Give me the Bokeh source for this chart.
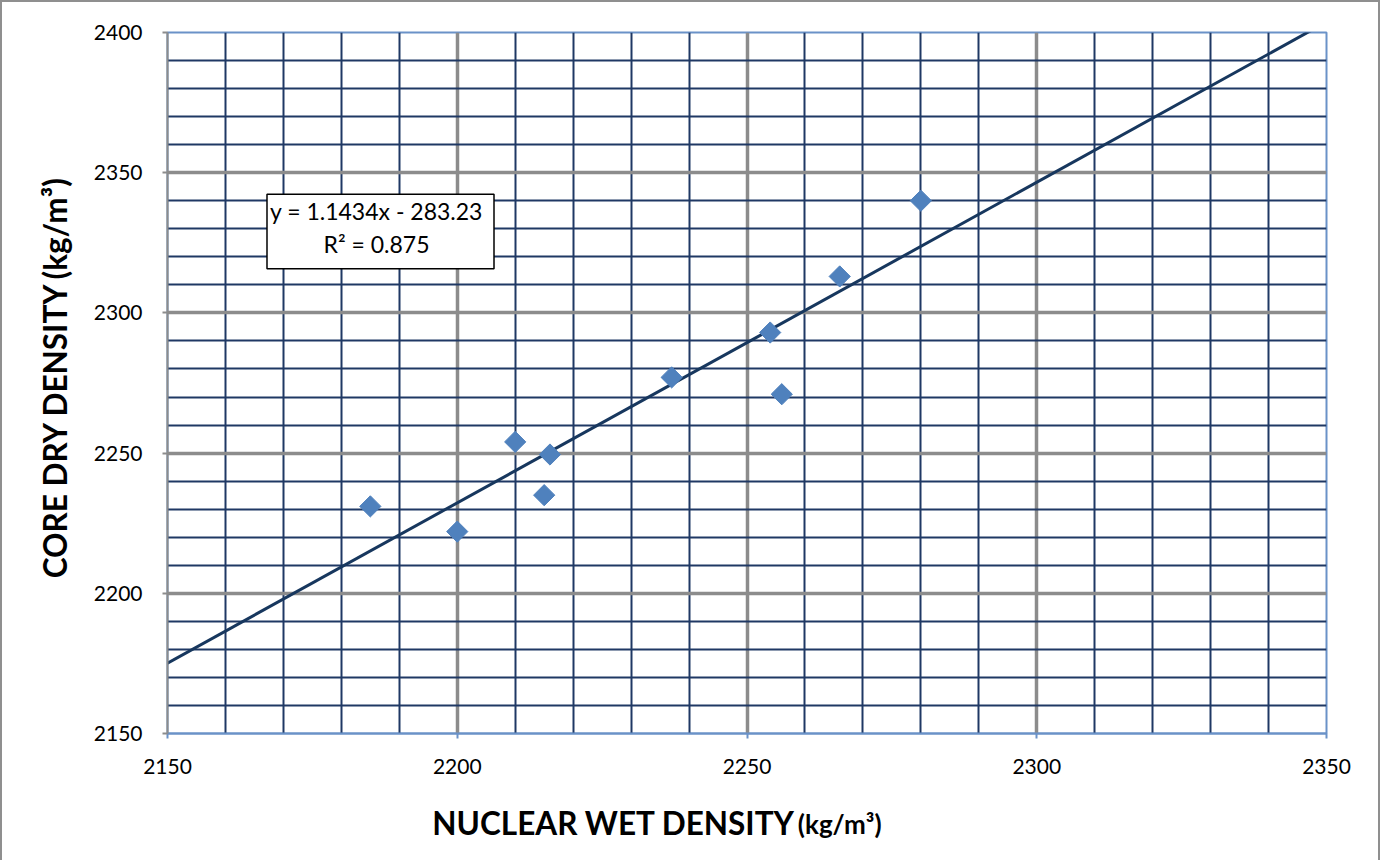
import numpy as np
from bokeh.plotting import figure
from bokeh.models import Label, FixedTicker, Range1d, LinearAxis
from bokeh.embed import file_html
from bokeh.resources import INLINE

# ---- data ----
nuclear_wet = [2185, 2200, 2210, 2215, 2216, 2237, 2254, 2256, 2266, 2280]
core_dry = [2231, 2222, 2254, 2235, 2249.5, 2277, 2293, 2271, 2313, 2340]
trend_slope = 1.1434
trend_intercept = -283.23
trend_text = "y = 1.1434x - 283.23\nR² = 0.875"
x_ticks = [2150, 2200, 2250, 2300, 2350]
y_ticks = [2150, 2200, 2250, 2300, 2350, 2400]
x_grid_major = [2200, 2250, 2300]
y_grid_major = [2200, 2250, 2300, 2350]
x_grid_minor = [v for v in range(2150, 2351, 10) if v % 50 != 0]
y_grid_minor = [v for v in range(2150, 2401, 10) if v % 50 != 0]
x_title = "NUCLEAR WET DENSITY"
y_title = "CORE DRY DENSITY"
unit_text = "(kg/m³)"

FONT = "Lato"
NAVY = "#1F3864"
GRAY = "#8C8C8C"
LBLUE = "#6A92C8"

p = figure(width=1380, height=860,
           x_range=Range1d(2150, 2350), y_range=Range1d(2150, 2400),
           output_backend="svg", toolbar_location=None,
           min_border_left=165, min_border_right=56,
           min_border_top=30, min_border_bottom=129)
p.styles = {"border-top": "2px solid #8f8f8f",
            "border-left": "2px solid #8f8f8f",
            "border-right": "2px solid #8f8f8f"}

p.background_fill_color = "white"
p.border_fill_color = "white"
p.outline_line_color = LBLUE
p.outline_line_width = 2

# grids
p.xgrid.ticker = FixedTicker(ticks=x_grid_major, minor_ticks=x_grid_minor)
p.ygrid.ticker = FixedTicker(ticks=y_grid_major, minor_ticks=y_grid_minor)
for g in (p.xgrid, p.ygrid):
    g.grid_line_color = GRAY
    g.grid_line_width = 3.5
    g.minor_grid_line_color = NAVY
    g.minor_grid_line_width = 2

# axes
p.xaxis.ticker = FixedTicker(ticks=x_ticks)
p.yaxis.ticker = FixedTicker(ticks=y_ticks)
for ax in (p.xaxis[0], p.yaxis[0]):
    ax.major_label_text_font = FONT
    ax.major_label_text_font_size = "21px"
    ax.major_label_text_color = "black"
    ax.major_tick_in = 0
    ax.major_tick_out = 5
    ax.minor_tick_in = 0
    ax.minor_tick_out = 0
    ax.axis_line_width = 2
    ax.major_tick_line_width = 2
p.xaxis.axis_line_color = LBLUE
p.xaxis.major_tick_line_color = LBLUE
p.xaxis.major_label_standoff = 20
p.yaxis.axis_line_color = GRAY
p.yaxis.major_tick_line_color = GRAY
p.yaxis.major_label_standoff = 20


def title_axis(positions, texts, size, standoff, orientation="horizontal"):
    ax = LinearAxis(ticker=FixedTicker(ticks=positions),
                    major_label_overrides=dict(zip(positions, texts)),
                    major_label_standoff=standoff,
                    major_label_orientation=orientation,
                    major_label_text_font=FONT,
                    major_label_text_font_style="bold",
                    major_label_text_font_size=size,
                    major_label_text_color="black",
                    axis_line_color=None, major_tick_line_color=None,
                    minor_tick_line_color=None,
                    major_tick_in=0, major_tick_out=0,
                    minor_tick_in=0, minor_tick_out=0)
    return ax


# axis titles built from label-only axes
p.add_layout(title_axis([2227], [x_title], "31.5px", 27), "below")
p.add_layout(title_axis([2266], [unit_text], "26px", -37), "below")
p.add_layout(title_axis([2258, 2330], [y_title, unit_text], "31.5px", 16,
                        "parallel"), "left")

# trendline
tx = np.array([2150.0, 2350.0])
p.line(tx, trend_slope * tx + trend_intercept, line_color="#17375E", line_width=3)

# points
p.scatter(nuclear_wet, core_dry, marker="square", angle=np.pi / 4, size=15,
          fill_color="#4F81BD", line_color="#4F81BD")

# equation box
p.add_layout(Label(x=376, y=227, x_units="canvas", y_units="canvas",
                   text=trend_text, text_font=FONT, text_font_size="23px",
                   text_color="black",
                   text_align="center", text_baseline="middle",
                   text_line_height=1.16,
                   border_line_color="black", border_line_width=1.5,
                   background_fill_color="white", padding=(3, 11, 3, 11)))

open("out.html", "w").write(file_html(p, INLINE))
